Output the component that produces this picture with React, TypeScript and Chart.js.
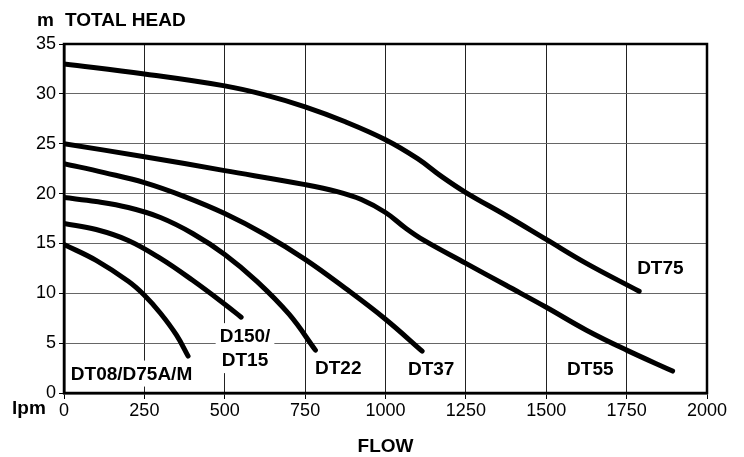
import React, { useEffect, useRef } from "react";
import { Chart, registerables } from "chart.js";

Chart.register(...registerables);

const xTicks = [0, 250, 500, 750, 1000, 1250, 1500, 1750, 2000];
const yTicks = [0, 5, 10, 15, 20, 25, 30, 35];

const dt08Flow = [0, 100, 200, 250, 300, 350, 386];
const dt08Head = [14.9, 13.3, 11.2, 9.8, 8.0, 5.8, 3.7];

const dt15Flow = [0, 100, 200, 300, 400, 500, 551];
const dt15Head = [17.0, 16.4, 15.3, 13.5, 11.3, 8.9, 7.6];

const dt22Flow = [0, 100, 200, 300, 400, 500, 600, 700, 782];
const dt22Head = [19.6, 19.2, 18.6, 17.6, 16.0, 13.9, 11.2, 7.9, 4.3];

const dt37Flow = [0, 125, 250, 375, 500, 625, 750, 875, 1000, 1114];
const dt37Head = [23.0, 22.1, 21.1, 19.7, 18.0, 15.9, 13.4, 10.5, 7.4, 4.2];

const dt55Flow = [0, 250, 500, 750, 850, 925, 1000, 1060, 1120, 1250, 1375, 1500, 1625, 1750, 1893];
const dt55Head = [25.0, 23.7, 22.3, 20.9, 20.2, 19.4, 18.1, 16.6, 15.3, 13.0, 10.8, 8.6, 6.3, 4.3, 2.2];

const dt75Flow = [0, 250, 500, 625, 750, 875, 1000, 1100, 1175, 1250, 1375, 1500, 1625, 1789];
const dt75Head = [33.0, 32.0, 30.8, 29.9, 28.7, 27.2, 25.4, 23.5, 21.7, 20.1, 17.8, 15.4, 13.0, 10.2];

const seriesNames = ["DT08/D75A/M", "D150/DT15", "DT22", "DT37", "DT55", "DT75"];
const seriesFlows = [dt08Flow, dt15Flow, dt22Flow, dt37Flow, dt55Flow, dt75Flow];
const seriesHeads = [dt08Head, dt15Head, dt22Head, dt37Head, dt55Head, dt75Head];

// curve labels: text lines and anchor in data units
const labelLines = [["DT08/D75A/M"], ["D150/", "DT15"], ["DT22"], ["DT37"], ["DT55"], ["DT75"]];
const labelFlow = [210, 563, 853, 1142, 1637, 1855];
const labelHead = [1.95, 4.5, 2.5, 2.4, 2.4, 12.6];

const FONT = "'Liberation Sans', Arial, Helvetica, sans-serif";

export default function App() {
  const ref = useRef<HTMLCanvasElement | null>(null);

  useEffect(() => {
    document.body.style.margin = "0";
    const canvas = ref.current;
    if (!canvas) return;

    const datasets = seriesNames.map((name, i) => ({
      label: name,
      data: seriesFlows[i].map((f, j) => ({ x: f, y: seriesHeads[i][j] })),
      borderColor: "#000",
      borderWidth: 5,
      borderCapStyle: "round" as const,
      borderJoinStyle: "round" as const,
      pointRadius: 0,
      fill: false,
      tension: 0.4,
    }));

    const decor = {
      id: "decor",
      beforeDatasetsDraw(chart: any) {
        const ctx = chart.ctx;
        const xs = chart.scales.x;
        const ys = chart.scales.y;
        ctx.save();
        ctx.font = `bold 19px ${FONT}`;
        ctx.textAlign = "center";
        ctx.textBaseline = "middle";
        labelLines.forEach((lines, i) => {
          const cx = xs.getPixelForValue(labelFlow[i]);
          const cy = ys.getPixelForValue(labelHead[i]);
          const lh = 24;
          const widths = lines.map((l) => ctx.measureText(l).width);
          const w = Math.max(...widths) + 8;
          const h = lines.length * lh + 2;
          ctx.fillStyle = "#fff";
          ctx.fillRect(cx - w / 2, cy - h / 2, w, h);
          ctx.fillStyle = "#000";
          lines.forEach((l, k) => {
            ctx.fillText(l, cx, cy - ((lines.length - 1) * lh) / 2 + k * lh + 1);
          });
        });
        ctx.restore();
      },
      afterDraw(chart: any) {
        const ctx = chart.ctx;
        const a = chart.chartArea;
        ctx.save();
        ctx.strokeStyle = "#000";
        ctx.lineWidth = 2.5;
        ctx.strokeRect(a.left, a.top, a.right - a.left, a.bottom - a.top);
        ctx.fillStyle = "#000";
        ctx.font = `bold 19px ${FONT}`;
        ctx.textBaseline = "alphabetic";
        ctx.textAlign = "left";
        ctx.fillText("m", 37, 26);
        ctx.fillText("TOTAL HEAD", 65, 26);
        ctx.fillText("lpm", 12, 414);
        ctx.textAlign = "center";
        ctx.fillText("FLOW", (a.left + a.right) / 2, 452);
        ctx.restore();
      },
    };

    const chart = new Chart(canvas, {
      type: "line",
      data: { datasets },
      options: {
        animation: false,
        responsive: false,
        maintainAspectRatio: false,
        layout: { padding: { top: 44, right: 37, left: 0, bottom: 0 } },
        plugins: { legend: { display: false }, tooltip: { enabled: false } },
        scales: {
          x: {
            type: "linear",
            min: 0,
            max: 2000,
            afterBuildTicks: (s: any) => {
              s.ticks = xTicks.map((v) => ({ value: v }));
            },
            afterFit: (s: any) => {
              s.height = 64;
            },
            ticks: {
              color: "#000",
              font: { family: FONT, size: 18 },
              padding: 1,
              maxRotation: 0,
              autoSkip: false,
              callback: (v: any) => String(v),
            },
            grid: { color: "#222", lineWidth: 1, tickLength: 6, tickColor: "#000" },
            border: { display: true, color: "#000", width: 2.5 },
          },
          y: {
            type: "linear",
            min: 0,
            max: 35,
            afterBuildTicks: (s: any) => {
              s.ticks = yTicks.map((v) => ({ value: v }));
            },
            afterFit: (s: any) => {
              s.width = 64;
            },
            ticks: {
              color: "#000",
              font: { family: FONT, size: 18 },
              padding: 3,
              autoSkip: false,
              callback: (v: any) => String(v),
            },
            grid: { color: "#666", lineWidth: 1, tickLength: 5, tickColor: "#000" },
            border: { display: true, color: "#000", width: 2.5 },
          },
        },
      },
      plugins: [decor],
    } as any);

    return () => chart.destroy();
  }, []);

  return (
    <div style={{ width: 744, height: 457, background: "#fff" }}>
      <canvas ref={ref} width={744} height={457} style={{ display: "block", width: 744, height: 457 }} />
    </div>
  );
}
